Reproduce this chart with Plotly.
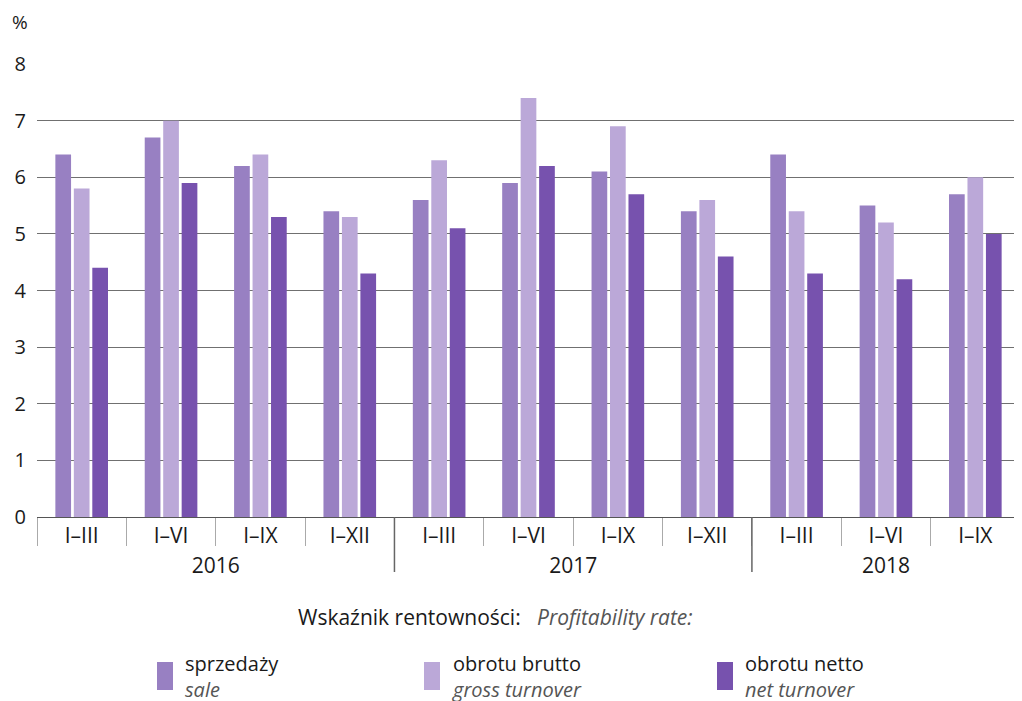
import plotly.graph_objects as go

years = ["2016"] * 4 + ["2017"] * 4 + ["2018"] * 3
periods = ["I–III", "I–VI", "I–IX", "I–XII", "I–III", "I–VI", "I–IX", "I–XII", "I–III", "I–VI", "I–IX"]
sale = [6.4, 6.7, 6.2, 5.4, 5.6, 5.9, 6.1, 5.4, 6.4, 5.5, 5.7]
gross = [5.8, 7.0, 6.4, 5.3, 6.3, 7.4, 6.9, 5.6, 5.4, 5.2, 6.0]
net = [4.4, 5.9, 5.3, 4.3, 5.1, 6.2, 5.7, 4.6, 4.3, 4.2, 5.0]
y_ticks = [0, 1, 2, 3, 4, 5, 6, 7, 8]
series_pl = ["sprzedaży", "obrotu brutto", "obrotu netto"]
series_en = ["sale", "gross turnover", "net turnover"]
colors = ["#9880c2", "#bba8d8", "#7752ae"]

FONT = "Open Sans"
OFF = 8  # page body margin
W, H = 1022 - OFF, 701 - OFF
# plot area in page pixels: x 37..1020, y 64..517
L, R, T, B = 37 - OFF, W - (1020 - OFF), 64 - OFF, H - (517 - OFF)
PW, PH = W - L - R, H - T - B


def px(x):
    return (x - OFF - L) / PW


def py(y):
    return (H - B - (y - OFF)) / PH


fig = go.Figure()
for vals, name, col in zip([sale, gross, net], series_pl, colors):
    fig.add_trace(go.Bar(x=[years, periods], y=vals, name=name, marker_color=col,
                         marker_line_width=0, showlegend=False))

fig.update_layout(
    width=W, height=H,
    margin=dict(l=L, r=R, t=T, b=B),
    plot_bgcolor="white", paper_bgcolor="white",
    barmode="group", bargap=0.38, bargroupgap=0.15,
    font=dict(family=FONT, size=19, color="#1a1a1a"),
)
fig.update_yaxes(range=[0, 8], tickvals=y_ticks, showgrid=True, gridcolor="#707070", gridwidth=1,
                 zeroline=False, showline=False, ticks="", ticklabelstandoff=10, automargin=False,
                 tickfont=dict(size=20, family=FONT))
fig.update_xaxes(type="multicategory", showline=True, linecolor="#555555", linewidth=1,
                 ticks="outside", tickcolor="#aaaaaa", ticklen=28, automargin=False,
                 showdividers=False,
                 tickfont=dict(size=21, family=FONT))

# year separators (category index boundaries between year groups)
for i in range(1, len(years)):
    if years[i] != years[i - 1]:
        fig.add_shape(type="line", xref="x", yref="paper", x0=i - 0.5, x1=i - 0.5,
                      y0=0, y1=py(572), line=dict(color="#666666", width=1.5))

fig.add_annotation(text="%", xref="paper", yref="paper", x=px(10), y=py(22),
                   showarrow=False, xanchor="left", yanchor="middle", font=dict(size=19))
fig.add_annotation(text="Wskaźnik rentowności:   <i><span style='color:#555555'>Profitability rate:</span></i>",
                   xref="paper", yref="paper", x=px(495), y=py(617), showarrow=False,
                   xanchor="center", yanchor="middle", font=dict(size=21))

leg_x = [157, 424, 717]
for lx, pl, en, col in zip(leg_x, series_pl, series_en, colors):
    fig.add_shape(type="rect", xref="paper", yref="paper",
                  x0=px(lx), x1=px(lx + 16), y0=py(690), y1=py(662),
                  fillcolor=col, line_width=0)
    fig.add_annotation(text=f"{pl}<br><i><span style='color:#555555'>{en}</span></i>",
                       xref="paper", yref="paper", x=px(lx + 26), y=py(676),
                       showarrow=False, xanchor="left", yanchor="middle", align="left",
                       font=dict(size=20))

fig.write_html("out.html")
